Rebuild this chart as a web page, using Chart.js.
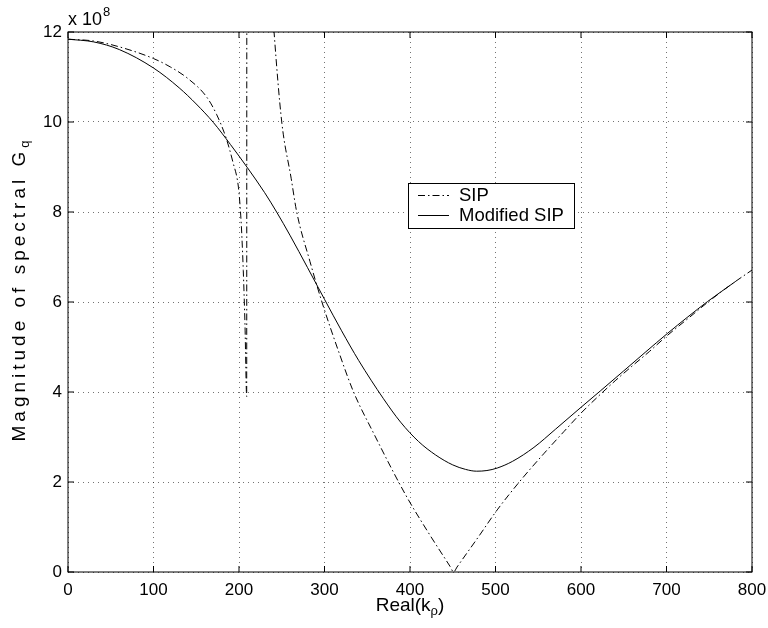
<!DOCTYPE html>
<html>
<head>
<meta charset="utf-8">
<script src="https://cdn.jsdelivr.net/npm/chart.js"></script>
<style>
  html, body { margin: 0; padding: 0; background: #fff; }
</style>
</head>
<body>
<canvas id="myChart" width="768" height="628"></canvas>
<script>
// SIP (dash-dot), values in units of 1e8
var sipX = [0, 30, 60, 100, 120, 140, 162, 174, 185, 193, 199, 201, 203, 205, 207, 209, 209.6,
  220, 232, 241, 250, 261, 267.5, 283, 297, 318, 334, 357, 395, 420, 447, 451, 455, 480,
  502, 530, 557, 580, 600, 620, 640, 660, 680, 700, 725, 750, 775, 800];
var sipY = [11.84, 11.8, 11.67, 11.41, 11.22, 10.97, 10.56, 10.16, 9.64, 9.1, 8.6, 8.2, 7.6, 6.7, 5.5, 3.9, 100,
  22, 14.6, 12, 10, 8.75, 8.0, 6.9, 6.0, 4.82, 4.0, 3.1, 1.71, 0.92, 0.12, 0, 0.11, 0.78,
  1.38, 2.05, 2.64, 3.12, 3.53, 3.9, 4.25, 4.58, 4.9, 5.24, 5.63, 6.02, 6.38, 6.71];

// Modified SIP (solid)
var modX = [0, 30, 60, 100, 130, 150, 170, 190, 210, 230, 244, 260, 280, 300, 320, 340, 369, 389,
  410, 430, 450, 465, 478, 490, 502, 520, 545, 570, 600, 623, 650, 675, 701, 725, 748, 781];
var modY = [11.84, 11.78, 11.61, 11.2, 10.76, 10.4, 9.99, 9.5, 8.98, 8.43, 8.0, 7.47, 6.77, 6.06, 5.36, 4.7, 3.85, 3.33,
  2.9, 2.6, 2.38, 2.28, 2.24, 2.255, 2.31, 2.46, 2.77, 3.17, 3.66, 4.03, 4.47, 4.88, 5.3, 5.67, 6.01, 6.46];

var xTicks = [0, 100, 200, 300, 400, 500, 600, 700, 800];
var yTicks = [0, 2, 4, 6, 8, 10, 12];

var FONT = "'Liberation Sans', Arial, Helvetica, sans-serif";

function pts(xs, ys) {
  return xs.map(function (v, i) { return { x: v, y: ys[i] }; });
}

function line(ctx, x1, y1, x2, y2) {
  ctx.beginPath();
  ctx.moveTo(x1, y1);
  ctx.lineTo(x2, y2);
  ctx.stroke();
}

var decor = {
  id: "decor",
  afterDraw: function (chart) {
    var ctx = chart.ctx, a = chart.chartArea;
    var xs = chart.scales.x, ys = chart.scales.y;
    ctx.save();
    ctx.strokeStyle = "#000";
    ctx.lineWidth = 1;
    ctx.setLineDash([]);
    ctx.strokeRect(a.left, a.top, a.right - a.left, a.bottom - a.top);

    // inward tick marks
    xTicks.forEach(function (v) {
      var p = xs.getPixelForValue(v);
      line(ctx, p, a.bottom, p, a.bottom - 6);
      line(ctx, p, a.top, p, a.top + 6);
    });
    yTicks.forEach(function (v) {
      var p = ys.getPixelForValue(v);
      line(ctx, a.left, p, a.left + 6, p);
      line(ctx, a.right, p, a.right - 6, p);
    });

    ctx.fillStyle = "#000";
    ctx.textBaseline = "alphabetic";

    // exponent
    ctx.font = "18px " + FONT;
    ctx.textAlign = "left";
    ctx.fillText("x 10", a.left, 25);
    var w = ctx.measureText("x 10").width;
    ctx.font = "13px " + FONT;
    ctx.fillText("8", a.left + w + 1, 16);

    // x title
    var t1 = "Real(k", t3 = ")";
    ctx.font = "13px " + FONT;
    var w2 = ctx.measureText("\u03c1").width;
    ctx.font = "19px " + FONT;
    var w1 = ctx.measureText(t1).width, w3 = ctx.measureText(t3).width;
    var cx = (a.left + a.right) / 2;
    var sx = cx - (w1 + w2 + w3) / 2;
    ctx.fillText(t1, sx, 611);
    ctx.font = "13px " + FONT;
    ctx.fillText("\u03c1", sx + w1, 615);
    ctx.font = "19px " + FONT;
    ctx.fillText(t3, sx + w1 + w2, 611);

    // y title
    ctx.save();
    ctx.translate(25, 289);
    ctx.rotate(-Math.PI / 2);
    ctx.font = "19px " + FONT;
    ctx.letterSpacing = "4px";
    var s1 = "Magnitude of spectral G";
    var ws1 = ctx.measureText(s1).width;
    ctx.font = "13px " + FONT;
    var ws2 = ctx.measureText("q").width;
    ctx.font = "19px " + FONT;
    var st = -(ws1 + ws2) / 2;
    ctx.fillText(s1, st, 0);
    ctx.font = "13px " + FONT;
    ctx.fillText("q", st + ws1, 4);
    ctx.restore();

    // legend
    ctx.fillStyle = "#fff";
    ctx.fillRect(408, 183, 166, 45);
    ctx.strokeStyle = "#000";
    ctx.strokeRect(408.5, 183.5, 166, 45);
    ctx.setLineDash([7, 3, 1.5, 3]);
    line(ctx, 418, 195.5, 449, 195.5);
    ctx.setLineDash([]);
    line(ctx, 418, 215.5, 449, 215.5);
    ctx.fillStyle = "#000";
    ctx.font = "18.5px " + FONT;
    ctx.fillText("SIP", 459, 201);
    ctx.fillText("Modified SIP", 459, 221);
    ctx.restore();
  }
};

var ctx = document.getElementById("myChart").getContext("2d");
var myChart = new Chart(ctx, {
  type: "line",
  data: {
    datasets: [
      {
        label: "SIP",
        data: pts(sipX, sipY),
        borderColor: "#000",
        borderWidth: 1,
        borderDash: [7, 3, 1.5, 3],
        pointRadius: 0,
        cubicInterpolationMode: "monotone",
        fill: false,
      },
      {
        label: "Modified SIP",
        data: pts(modX, modY),
        borderColor: "#000",
        borderWidth: 1,
        pointRadius: 0,
        cubicInterpolationMode: "monotone",
        fill: false,
      },
    ],
  },
  options: {
    responsive: false,
    animation: false,
    devicePixelRatio: 1,
    layout: { padding: { left: 0, top: 32, right: 16, bottom: 0 } },
    plugins: { legend: { display: false }, tooltip: { enabled: false } },
    scales: {
      x: {
        type: "linear",
        min: 0,
        max: 800,
        afterFit: function (s) {
          s.height = 56;
          s.paddingLeft = 0;
          s.paddingRight = 0;
        },
        afterBuildTicks: function (s) { s.ticks = xTicks.map(function (v) { return { value: v }; }); },
        ticks: { color: "#000", padding: 8, maxRotation: 0, font: { size: 17, family: FONT } },
        grid: { color: "rgba(0,0,0,0.55)", lineWidth: 1, drawTicks: false },
        border: { display: false, dash: [1, 4] },
      },
      y: {
        type: "linear",
        min: 0,
        max: 12,
        afterFit: function (s) {
          s.width = 68;
          s.paddingTop = 0;
          s.paddingBottom = 0;
        },
        afterBuildTicks: function (s) { s.ticks = yTicks.map(function (v) { return { value: v }; }); },
        ticks: { color: "#000", padding: 6, font: { size: 17, family: FONT } },
        grid: { color: "rgba(0,0,0,0.55)", lineWidth: 1, drawTicks: false },
        border: { display: false, dash: [1, 4] },
      },
    },
  },
  plugins: [decor],
});
</script>
</body>
</html>
